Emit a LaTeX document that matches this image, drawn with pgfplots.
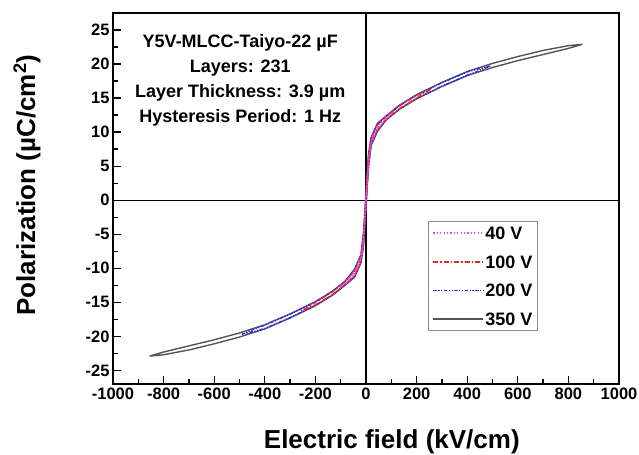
\documentclass[border=0pt]{standalone}
\usepackage{fontspec}
\setmainfont{Liberation Sans}
\usepackage{pgfplots}
\pgfplotsset{compat=1.18}
\definecolor{pinkA}{RGB}{240,70,240}
\definecolor{redB}{RGB}{235,40,40}
\definecolor{blueC}{RGB}{40,40,245}
\definecolor{grayD}{RGB}{85,85,85}
\begin{document}
\begin{tikzpicture}
\begin{axis}[
  name=ax,
  scale only axis, width=506pt, height=371pt,
  xmin=-1000, xmax=1000, ymin=-27, ymax=27.5,
  xtick distance=200, ytick={-25,-20,...,25},
  minor x tick num=1, minor y tick num=1,
  tick pos=left, tick align=inside,
  major tick length=8pt, minor tick length=5pt,
  every tick/.style={black, line width=1.3pt},
  axis line style={line width=1.8pt},
  /pgf/number format/assume math mode=true,
  /pgf/number format/set thousands separator={},
  ticklabel style={font=\bfseries\fontsize{16.5}{16.5}\selectfont},
  xlabel={Electric field (kV/cm)},
  ylabel={Polarization (µC/cm\textsuperscript{2})},
  xlabel style={font=\bfseries\fontsize{26}{26}\selectfont, at={(axis description cs:0.551,-0.156)}, anchor=center},
  ylabel style={font=\bfseries\fontsize{26}{26}\selectfont, at={(axis description cs:-0.17,0.536)}, anchor=center},
  legend style={at={(rel axis cs:0.6225,0.439)}, anchor=north west, draw=black!45, line width=0.9pt,
    font=\bfseries\fontsize{18}{18}\selectfont, inner sep=4pt, row sep=13.7pt,
    nodes={inner sep=1pt, text height=13pt, text depth=0pt}},
  legend cell align=left,
  reverse legend,
]
\addplot[black, line width=1.4pt, forget plot] coordinates {(0,-27) (0,27.5)};
\addplot[black, line width=1.4pt, forget plot] coordinates {(-1000,0) (1000,0)};
% 350 V
\addplot[draw=grayD, line width=1.4pt, legend image code/.code={\draw[line width=1.8pt] (0pt,0pt) -- (50pt,0pt);}] coordinates {
(855,22.9) (800,22.7) (700,22.0) (600,21.1) (500,20.1) (400,18.9) (300,17.3) (200,15.5) (130,13.9) (80,12.4) (45,11.3) (20,9.2) (10,6.8) (5,4.0) (0,1.0) (-5,-2.0) (-10,-4.8) (-20,-8.0) (-45,-10.1) (-80,-11.8) (-130,-13.3) (-200,-14.9) (-300,-16.7) (-400,-18.3) (-500,-19.5) (-600,-20.5) (-700,-21.4) (-800,-22.3) (-855,-22.9)
(-800,-22.7) (-700,-22.0) (-600,-21.1) (-500,-20.1) (-400,-18.9) (-300,-17.3) (-200,-15.5) (-130,-13.9) (-80,-12.4) (-45,-11.3) (-20,-9.2) (-10,-6.8) (-5,-4.0) (0,-1.0) (5,2.0) (10,4.8) (20,8.0) (45,10.1) (80,11.8) (130,13.3) (200,14.9) (300,16.7) (400,18.3) (500,19.5) (600,20.5) (700,21.4) (800,22.3) (855,22.9)
};
\addlegendentry{350 V}
% 200 V
\addplot[draw=blueC, line width=1.4pt, dash pattern=on 3.5pt off 1.5pt on 1.2pt off 1.5pt on 1.2pt off 1.5pt,
  legend image code/.code={\draw[line width=1.8pt] (0pt,0pt) -- (50pt,0pt);}] coordinates {
(490,19.7) (450,19.35) (400,18.85) (300,17.25) (200,15.45) (130,13.85) (80,12.35) (45,11.15) (20,9.05) (10,6.5) (5,3.7) (0,0.7) (-5,-2.3) (-10,-5.1) (-20,-8.15) (-45,-10.25) (-80,-11.85) (-130,-13.35) (-200,-14.95) (-300,-16.75) (-400,-18.35) (-450,-19.05) (-490,-19.7)
(-450,-19.35) (-400,-18.85) (-300,-17.25) (-200,-15.45) (-130,-13.85) (-80,-12.35) (-45,-11.15) (-20,-9.05) (-10,-6.5) (-5,-3.7) (0,-0.7) (5,2.3) (10,5.1) (20,8.15) (45,10.25) (80,11.85) (130,13.35) (200,14.95) (300,16.75) (400,18.35) (450,19.05) (490,19.7)
};
\addlegendentry{200 V}
% 100 V
\addplot[draw=redB, line width=1.4pt, dash pattern=on 5pt off 2pt on 1.5pt off 2pt,
  legend image code/.code={\draw[line width=2pt] (0pt,0pt) -- (50pt,0pt);}] coordinates {
(256,16.3) (230,15.9) (200,15.4) (130,13.8) (80,12.3) (45,11.05) (20,8.95) (10,6.3) (5,3.5) (0,0.5) (-5,-2.5) (-10,-5.3) (-20,-8.25) (-45,-10.35) (-80,-11.9) (-130,-13.4) (-200,-15.0) (-230,-15.7) (-256,-16.3)
(-230,-15.9) (-200,-15.4) (-130,-13.8) (-80,-12.3) (-45,-11.05) (-20,-8.95) (-10,-6.3) (-5,-3.5) (0,-0.5) (5,2.5) (10,5.3) (20,8.25) (45,10.35) (80,11.9) (130,13.4) (200,15.0) (230,15.7) (256,16.3)
};
\addlegendentry{100 V}
% 40 V
\addplot[draw=pinkA, line width=1.4pt, dash pattern=on 1.2pt off 2.2pt,
  legend image code/.code={\draw[line width=1.8pt] (0pt,0pt) -- (50pt,0pt);}] coordinates {
(103,12.8) (90,12.48) (80,12.25) (45,10.85) (20,8.85) (10,6.15) (5,3.35) (0,0.35) (-5,-2.65) (-10,-5.45) (-20,-8.35) (-45,-10.55) (-80,-11.95) (-90,-12.32) (-103,-12.8)
(-90,-12.48) (-80,-12.25) (-45,-10.85) (-20,-8.85) (-10,-6.15) (-5,-3.35) (0,-0.35) (5,2.65) (10,5.45) (20,8.35) (45,10.55) (80,11.95) (90,12.32) (103,12.8)
};
\addlegendentry{40 V}
\node[align=center, anchor=north, inner sep=0pt, font=\bfseries\fontsize{18}{25}\selectfont]
  at (rel axis cs:0.2515,0.943) {Y5V-MLCC-Taiyo-22 µF\\Layers: 231\\Layer Thickness: 3.9 µm\\Hysteresis Period: 1 Hz};
\node[font=\bfseries\fontsize{17}{17}\selectfont] at (rel axis cs:-0.178,0.973) {(a)};
\end{axis}
\pgfresetboundingbox
\path[use as bounding box] ([shift={(-113pt,-70pt)}]ax.south west) rectangle ([shift={(20pt,13pt)}]ax.north east);
\end{tikzpicture}
\end{document}
